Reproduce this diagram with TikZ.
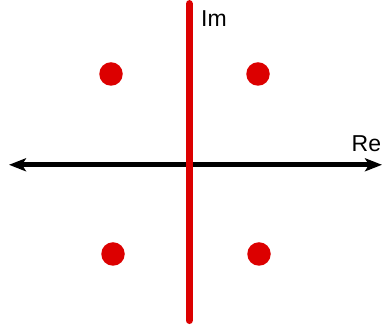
\documentclass[tikz,border=0pt]{standalone}
\usepackage{fontspec}
\setmainfont{Liberation Sans}
\usetikzlibrary{arrows.meta}
\definecolor{axisred}{RGB}{220,0,0}

\begin{document}
\begin{tikzpicture}[
    x=1pt, y=1pt,
    dot/.style={circle, fill=axisred, minimum size=23.5pt, inner sep=0pt},
    axislabel/.style={font=\fontsize{23}{27}\selectfont, inner sep=0pt},
    realaxis/.style={{Stealth[length=17pt, width=13pt, inset=4pt]}-{Stealth[length=17pt, width=13pt, inset=4pt]}, line width=5pt, black},
    imagaxis/.style={line width=7.5pt, line cap=round, axisred}
  ]
    \useasboundingbox (0,0) rectangle (383,328);
    % axes end points
    \coordinate (reL) at (9,163.2);
    \coordinate (reR) at (382,163.2);
    \coordinate (imT) at (189.3,324.2);
    \coordinate (imB) at (189.3,7.7);
    \draw[realaxis] (reL) -- (reR);
    \draw[imagaxis] (imB) -- (imT);
    % labels
    \node[axislabel, anchor=base west] (im) at (201,301.3) {Im};
    \node[axislabel, anchor=base west] (re) at (351.5,176.3) {Re};
    % roots
    \node[dot] (p1) at (111,254) {};
    \node[dot] (p2) at (258,254) {};
    \node[dot] (p3) at (113,74) {};
    \node[dot] (p4) at (259,74) {};
  \end{tikzpicture}
\end{document}
